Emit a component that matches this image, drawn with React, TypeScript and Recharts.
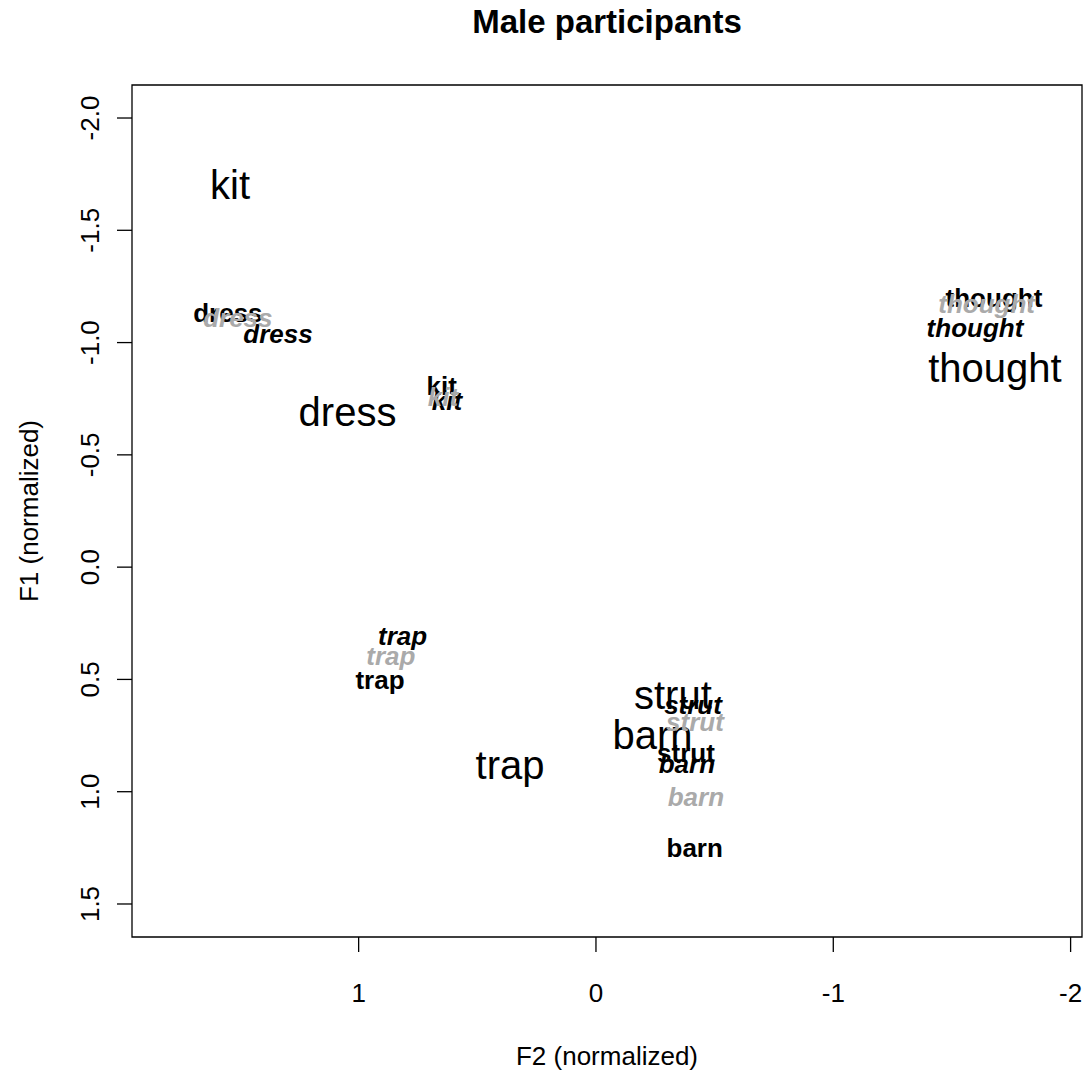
import { ScatterChart, Scatter, XAxis, YAxis, ReferenceArea } from "recharts";

// vowel categories (same order in every series)
const vowels = ["kit", "dress", "trap", "strut", "barn", "thought"];

// large plain labels
const plainF2 = [1.542, 1.047, 0.362, -0.324, -0.238, -1.681];
const plainF1 = [-1.7, -0.69, 0.882, 0.57, 0.748, -0.886];

// bold black labels
const boldF2 = [0.65, 1.551, 0.91, -0.379, -0.416, -1.677];
const boldF1 = [-0.806, -1.131, 0.503, 0.828, 1.251, -1.198];

// bold italic black labels
const italicF2 = [0.628, 1.34, 0.815, -0.409, -0.383, -1.597];
const italicF1 = [-0.739, -1.037, 0.307, 0.614, 0.877, -1.064];

// bold italic grey labels
const greyF2 = [0.645, 1.509, 0.864, -0.417, -0.421, -1.646];
const greyF1 = [-0.757, -1.109, 0.396, 0.69, 1.024, -1.171];

const xTicks = [1, 0, -1, -2];
const yTicks = [-2, -1.5, -1, -0.5, 0, 0.5, 1, 1.5];

const FONT = "'Liberation Sans', Arial, Helvetica, sans-serif";
const xDomain: [number, number] = [-2.048, 1.955];
const yDomain: [number, number] = [-2.147, 1.647];

const toRows = (xs: number[], ys: number[]) =>
  vowels.map((v, i) => ({ vowel: v, x: xs[i], y: ys[i] }));

function wordShape(size: number, weight: string, italic: boolean, color: string) {
  return (props: any) => {
    const { cx, cy, payload } = props;
    if (cx == null || cy == null) return <g />;
    return (
      <text
        x={cx}
        y={cy + size * 0.35}
        textAnchor="middle"
        fontFamily={FONT}
        fontSize={size}
        fontWeight={weight}
        fontStyle={italic ? "italic" : "normal"}
        fill={color}
      >
        {payload.vowel}
      </text>
    );
  };
}

const XTick = (props: any) => {
  const { x, y, payload } = props;
  return (
    <text x={x} y={y + 50} textAnchor="middle" fontFamily={FONT} fontSize={26} fill="#000">
      {String(payload.value)}
    </text>
  );
};

const YTick = (props: any) => {
  const { x, y, payload } = props;
  const tx = x - 18;
  return (
    <text
      x={tx}
      y={y}
      transform={`rotate(-90 ${tx} ${y})`}
      textAnchor="middle"
      fontFamily={FONT}
      fontSize={26}
      fill="#000"
    >
      {payload.value.toFixed(1)}
    </text>
  );
};

export default function App() {
  return (
    <div style={{ position: "absolute", left: 0, top: 0, background: "#fff" }}>
      <ScatterChart width={1087} height={1074} margin={{ top: 85, right: 5, bottom: 0, left: 0 }}>
        <XAxis
          type="number"
          dataKey="x"
          domain={xDomain}
          allowDataOverflow
          reversed
          ticks={xTicks}
          height={137}
          axisLine={false}
          tickSize={15}
          tickMargin={0}
          tickLine={{ stroke: "#000", strokeWidth: 1.3 }}
          tick={<XTick />}
          label={{
            content: (p: any) => (
              <text
                x={p.viewBox.x + p.viewBox.width / 2}
                y={1065}
                textAnchor="middle"
                fontFamily={FONT}
                fontSize={26}
                fill="#000"
              >
                F2 (normalized)
              </text>
            ),
          }}
        />
        <YAxis
          type="number"
          dataKey="y"
          domain={yDomain}
          allowDataOverflow
          reversed
          ticks={yTicks}
          width={132}
          axisLine={false}
          tickSize={15}
          tickMargin={0}
          tickLine={{ stroke: "#000", strokeWidth: 1.3 }}
          tick={<YTick />}
          label={{
            content: (p: any) => {
              const cy = p.viewBox.y + p.viewBox.height / 2;
              return (
                <text
                  x={38}
                  y={cy}
                  transform={`rotate(-90 38 ${cy})`}
                  textAnchor="middle"
                  fontFamily={FONT}
                  fontSize={26}
                  fill="#000"
                >
                  F1 (normalized)
                </text>
              );
            },
          }}
        />
        <ReferenceArea
          x1={xDomain[0]}
          x2={xDomain[1]}
          y1={yDomain[0]}
          y2={yDomain[1]}
          fill="none"
          stroke="#000"
          strokeWidth={1.3}
          ifOverflow="visible"
        />
        <Scatter data={toRows(plainF2, plainF1)} shape={wordShape(40, "normal", false, "#000")} isAnimationActive={false} />
        <Scatter data={toRows(boldF2, boldF1)} shape={wordShape(26, "bold", false, "#000")} isAnimationActive={false} />
        <Scatter data={toRows(italicF2, italicF1)} shape={wordShape(26, "bold", true, "#000")} isAnimationActive={false} />
        <Scatter data={toRows(greyF2, greyF1)} shape={wordShape(26, "bold", true, "#aaaaaa")} isAnimationActive={false} />
        <text x={607} y={33} textAnchor="middle" fontFamily={FONT} fontSize={33} fontWeight="bold" fill="#000">
          Male participants
        </text>
      </ScatterChart>
    </div>
  );
}
